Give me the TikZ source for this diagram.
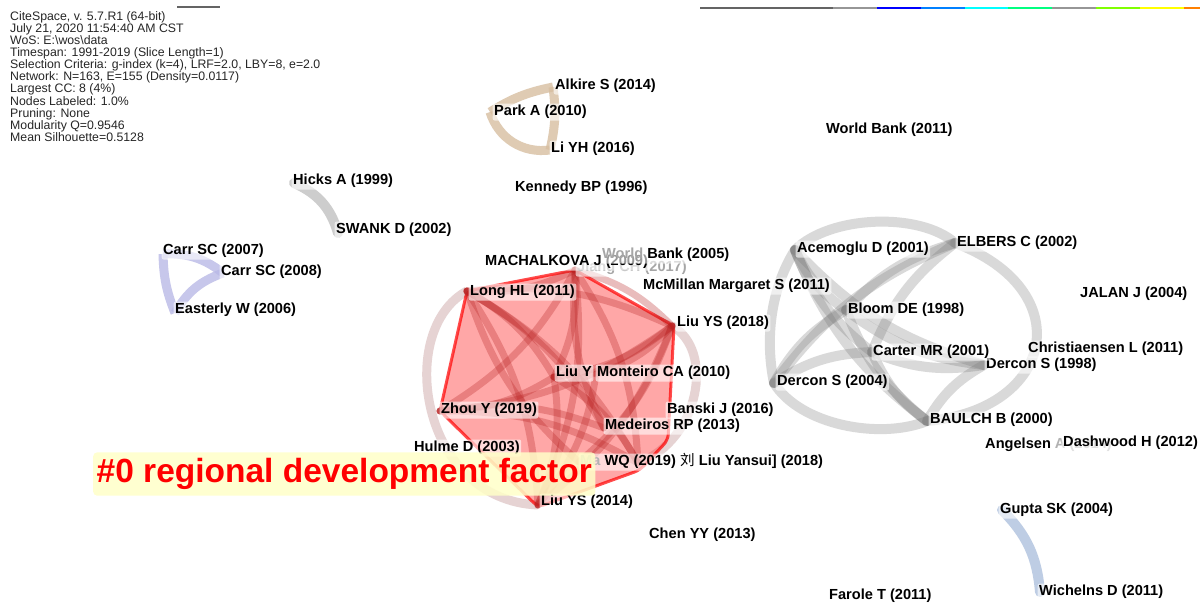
\documentclass[tikz,border=0pt]{standalone}
\usepackage{fontspec}
\setmainfont{Liberation Sans}
\newfontfamily\cjkfont{Noto Sans CJK SC}
\usepackage{tikz}
\usetikzlibrary{positioning}
\definecolor{redlk}{RGB}{185,35,35}
\definecolor{hullred}{RGB}{255,60,60}
\definecolor{palearc}{RGB}{210,175,175}
\definecolor{graylk}{RGB}{120,120,120}
\definecolor{tanlk}{RGB}{215,190,160}
\definecolor{hicklk}{RGB}{205,205,205}
\definecolor{carrlk}{RGB}{185,185,230}
\definecolor{guptalk}{RGB}{190,205,228}
\definecolor{lightyel}{RGB}{255,255,200}
\definecolor{bar1}{RGB}{100,100,100}
\definecolor{bar2}{RGB}{150,150,150}
\definecolor{bar3}{RGB}{0,0,255}
\definecolor{bar4}{RGB}{0,128,255}
\definecolor{bar5}{RGB}{0,255,255}
\definecolor{bar6}{RGB}{0,255,128}
\definecolor{bar7}{RGB}{128,255,0}
\definecolor{bar8}{RGB}{255,255,0}
\definecolor{bar9}{RGB}{255,128,0}
\tikzset{%
	ref/.style      = {anchor=west, inner sep=1.5pt, rounded corners=2pt, fill=white, fill opacity=0.6, text opacity=1, font=\bfseries\fontsize{14.6}{16}\selectfont, text height=10.5pt, text depth=3.5pt}, % Reference label
	faded/.style    = {text=gray!70}, % Hidden part of a label
	infoline/.style = {anchor=base west, inner sep=0pt, text=black!85, font=\fontsize{12.3}{12.1}\selectfont}, % Header
	clusterlabel/.style = {anchor=west, inner xsep=3.5pt, inner ysep=6pt, rounded corners=4pt, fill=lightyel, fill opacity=0.85, text opacity=1, text=red, font=\bfseries\fontsize{33.5}{36}\selectfont},
	redlink/.style  = {line width=7, draw=redlk, draw opacity=0.3, line cap=round},
	graylink/.style = {line width=10, draw=graylk, draw opacity=0.28, line cap=round},
	arclink/.style  = {line width=9, draw=palearc, draw opacity=0.55},
}

\begin{document}
\begin{tikzpicture}[x=1pt,y=-1pt]
	\useasboundingbox (0,0) rectangle (1200,603);
	\fill[white] (0,0) rectangle (1200,603);

	% header and colour bar
	\foreach \txt [count=\i] in {{CiteSpace, v. 5.7.R1 (64-bit)},{July 21, 2020 11:54:40 AM CST},{WoS: E:\textbackslash wos\textbackslash data},{Timespan: 1991-2019 (Slice Length=1)},{Selection Criteria: g-index (k=4), LRF=2.0, LBY=8, e=2.0},{Network: N=163, E=155 (Density=0.0117)},{Largest CC: 8 (4\%)},{Nodes Labeled: 1.0\%},{Pruning: None},{Modularity Q=0.9546},{Mean Silhouette=0.5128}}
		\node[infoline] (info\i) at (10,{8.2+12.1*\i}) {\txt};
	\draw[line width=1.2, bar1] (177,7) -- (220,7);
	\foreach \xa/\xb/\col in {700/833/bar1, 833/877/bar2, 877/921/bar3, 921/965/bar4, 965/1008/bar5, 1008/1052/bar6, 1052/1096/bar2, 1096/1140/bar7, 1140/1184/bar8, 1184/1200/bar9}
		\draw[line width=1.5, \col] (\xa,8) -- (\xb,8);

	% cluster points
	\coordinate (j) at (575,270);
	\coordinate (l) at (467,291);
	\coordinate (y18) at (672,326);
	\coordinate (ly) at (554,377);
	\coordinate (mon) at (596,374);
	\coordinate (z) at (440,411);
	\coordinate (med) at (604,428);
	\coordinate (ma) at (579,462);
	\coordinate (yan) at (638,463);
	\coordinate (s14) at (538,505);
	\coordinate (ace) at (795,250);
	\coordinate (elb) at (955,243);
	\coordinate (blo) at (846,310);
	\coordinate (car) at (872,352);
	\coordinate (d98) at (984,365);
	\coordinate (d04) at (774,383);
	\coordinate (bau) at (927,421);
	\coordinate (park) at (490,112);
	\coordinate (alk) at (553,87);
	\coordinate (liyh) at (550,150);
	\coordinate (hick) at (294,183);
	\coordinate (swk) at (338,233);
	\coordinate (c07) at (163,254);
	\coordinate (c08) at (223,273);
	\coordinate (east) at (175,313);
	\coordinate (gup) at (1002,510);
	\coordinate (wich) at (1040,592);

	% cluster #0
	\draw[arclink] (l) .. controls (395,330) and (420,500) .. (s14);
	\draw[arclink] (y18) .. controls (715,350) and (700,440) .. (yan);
	\fill[hullred, fill opacity=0.45, rounded corners=6pt] (j) -- (674,326) -- (668,440) -- (640,470) -- (538,507) -- (z) -- (l) -- cycle;
	\draw[red, line width=3, draw opacity=0.7, rounded corners=6pt] (j) -- (674,326) -- (668,440) -- (640,470) -- (538,507) -- (z) -- (l) -- cycle;
	\foreach \a/\b in {j/l, j/y18, j/ly, j/z, j/s14, j/yan, l/y18, l/ly, l/med, l/yan, l/s14, y18/ly, y18/z, y18/s14, y18/ma, y18/mon, ly/z, ly/yan, ly/s14, z/med, z/yan, mon/s14, med/j, ma/l}
		\draw[redlink] (\a) to[bend left=15] (\b);

	% gray cluster
	\draw[graylink] (ace) .. controls (830,215) and (920,212) .. (elb);
	\draw[graylink] (ace) .. controls (770,290) and (765,340) .. (d04);
	\draw[graylink] (d04) .. controls (800,425) and (880,440) .. (bau);
	\draw[graylink] (elb) .. controls (1080,290) and (1055,410) .. (bau);
	\foreach \a/\b in {ace/blo, ace/car, ace/bau, ace/d98, elb/blo, elb/car, elb/d04, blo/bau, blo/d98, blo/d04, car/d04, car/bau, car/d98, d98/bau}
		\draw[graylink] (\a) to[bend right=15] (\b);

	% small clusters
	\draw[line width=9, tanlk, draw opacity=0.8] (park) to[bend left=10] (alk);
	\draw[line width=9, tanlk, draw opacity=0.8] (park) to[bend right=40] (liyh);
	\draw[line width=9, tanlk, draw opacity=0.8] (alk) to[bend left=10] (liyh);
	\draw[line width=10, hicklk, line cap=round] (hick) to[bend left=25] (swk);
	\draw[line width=9, carrlk, draw opacity=0.8] (c07) to[bend left=20] (c08);
	\draw[line width=9, carrlk, draw opacity=0.8] (c07) to[bend right=10] (east);
	\draw[line width=9, carrlk, draw opacity=0.8] (c08) to[bend right=20] (east);
	\draw[line width=10, guptalk, line cap=round] (gup) to[bend left=20] (wich);

	% labels
	\node[ref] (alkire) at (553.5,86) {Alkire S (2014)};
	\node[ref] (parka) at (492.5,112) {Park A (2010)};
	\node[ref] (liyhl) at (549.5,149) {Li YH (2016)};
	\node[ref] (wb11) at (824.5,130) {World Bank (2011)};
	\node[ref] (kennedy) at (513.5,188) {Kennedy BP (1996)};
	\node[ref] (hicks) at (291.5,181) {Hicks A (1999)};
	\node[ref] (swank) at (334.5,230) {SWANK D (2002)};
	\node[ref] (carr07) at (161.5,251) {Carr SC (2007)};
	\node[ref] (carr08) at (219.5,272) {Carr SC (2008)};
	\node[ref] (easterly) at (173.5,310) {Easterly W (2006)};
	\node[ref, faded] (jiang) at (575.5,268) {Jiang CH (2017)};
	\node[ref] (machal) at (483.5,262) {MACHALKOVA J (2009)};
	\node[ref] (wb05) at (600.5,255) {\textcolor{gray!70}{World} Bank (2005)};
	\node[ref] (mcmillan) at (641.5,286) {McMillan Margaret S (2011)};
	\node[ref] (longhl) at (468.5,292) {Long HL (2011)};
	\node[ref] (liuys18) at (675.5,323) {Liu YS (2018)};
	\node[ref] (liuy) at (554.5,373) {Liu Y};
	\node[ref] (monteiro) at (595.5,373) {Monteiro CA (2010)};
	\node[ref] (zhou) at (439.5,410) {Zhou Y (2019)};
	\node[ref] (banski) at (665.5,410) {Banski J (2016)};
	\node[ref] (medeiros) at (603.5,426) {Medeiros RP (2013)};
	\node[ref] (hulme) at (412.5,448) {Hulme D (2003)};
	\node[ref] (mawq) at (578.5,462) {\textcolor{gray!60}{Ma} WQ (2019)};
	\node[ref] (yansui) at (678.5,462) {{\cjkfont\mdseries 刘} Liu Yansui] (2018)};
	\node[ref] (liuys14) at (539.5,502) {Liu YS (2014)};
	\node[ref] (chenyy) at (647.5,535) {Chen YY (2013)};
	\node[ref] (farole) at (827.5,596) {Farole T (2011)};
	\node[ref] (acemoglu) at (795.5,249) {Acemoglu D (2001)};
	\node[ref] (elbers) at (955.5,243) {ELBERS C (2002)};
	\node[ref] (jalan) at (1078.5,294) {JALAN J (2004)};
	\node[ref] (bloom) at (846.5,310) {Bloom DE (1998)};
	\node[ref] (dercon98) at (984.5,365) {Dercon S (1998)};
	\node[ref] (christ) at (1026.5,349) {Christiaensen L (2011)};
	\node[ref] (carter) at (871.5,352) {Carter MR (2001)};
	\node[ref] (dercon04) at (775.5,382) {Dercon S (2004)};
	\node[ref] (baulch) at (928.5,420) {BAULCH B (2000)};
	\node[ref] (angelsen) at (983.5,445) {Angelsen \textcolor{gray!60}{A (2014)}};
	\node[ref] (dashwood) at (1061.5,443) {Dashwood H (2012)};
	\node[ref] (gupta) at (998.5,510) {Gupta SK (2004)};
	\node[ref] (wichelns) at (1037.5,592) {Wichelns D (2011)};

	\node[clusterlabel] (c0) at (93,474) {\#0 regional development factor};
\end{tikzpicture}
\end{document}
